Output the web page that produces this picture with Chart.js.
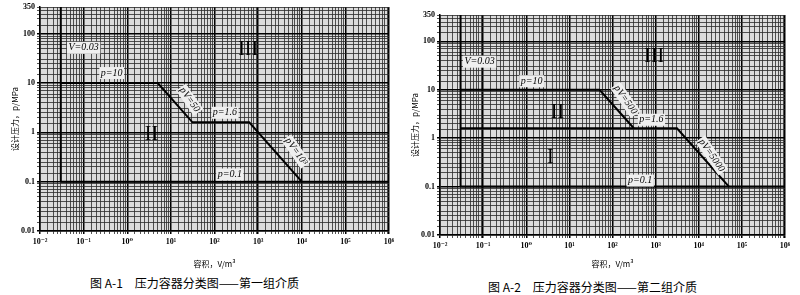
<!DOCTYPE html>
<html>
<head>
<meta charset="utf-8">
<script src="https://cdn.jsdelivr.net/npm/chart.js@4.4.1/dist/chart.umd.min.js"></script>
<style>
  body { margin: 0; width: 800px; height: 295px; background: #fff; position: relative; overflow: hidden; }
  .box { position: absolute; top: 0; width: 400px; height: 272px; }
  .caption { position: absolute; font-family: "Noto Sans CJK SC", sans-serif; font-size: 12px; color: #000; white-space: nowrap; }
</style>
</head>
<body>
<div class="box" style="left:0"><canvas id="chartA1"></canvas></div>
<div class="box" style="left:400px"><canvas id="chartA2"></canvas></div>
<div class="caption" style="left:90px; top:274px">图 A-1　压力容器分类图——第一组介质</div>
<div class="caption" style="left:488px; top:278px">图 A-2　压力容器分类图——第二组介质</div>

<script>
// axis ticks (log-log paper)
const volumeTicks = [0.01, 0.1, 1, 10, 100, 1000, 10000, 100000, 1000000];
const volumeLabels = ['10⁻²', '10⁻¹', '10⁰', '10¹', '10²', '10³', '10⁴', '10⁵', '10⁶'];
const pressureTicks = [0.01, 0.1, 1, 10, 100, 350];
const pressureLabels = ['0.01', '0.1', '1', '10', '100', '350'];
const paperSteps = [1, 1.5, 2, 2.5, 3, 4, 5, 6, 7, 8, 9];

// figure A-1, first group media  (V in m3, p in MPa)
const a1LineV003 = [{x: 0.03, y: 0.1}, {x: 0.03, y: 350}];
const a1LineP01 = [{x: 0.03, y: 0.1}, {x: 1000000, y: 0.1}];
const a1Steps = [{x: 0.03, y: 10}, {x: 5, y: 10}, {x: 31.25, y: 1.6}, {x: 625, y: 1.6}, {x: 10000, y: 0.1}];
const a1Texts = [
  {t: 'V=0.03', x: 0.1, y: 52, size: 10, italic: true, box: true},
  {t: 'p=10', x: 0.44, y: 16, size: 10, italic: true, box: true},
  {t: 'pV=50', x: 27, y: 4.6, size: 10, italic: true, box: true, rot: 55},
  {t: 'p=1.6', x: 174, y: 2.5, size: 10, italic: true, box: true},
  {t: 'pV=10³', x: 7400, y: 0.41, size: 10, italic: true, box: true, rot: 55},
  {t: 'p=0.1', x: 224, y: 0.14, size: 10, italic: true, box: true},
  {t: 'III', x: 590, y: 48, size: 20},
  {t: 'II', x: 3.6, y: 0.9, size: 20}
];

// figure A-2, second group media
const a2LineV003 = [{x: 0.03, y: 0.1}, {x: 0.03, y: 350}];
const a2LineP01 = [{x: 0.03, y: 0.1}, {x: 1000000, y: 0.1}];
const a2StepsHigh = [{x: 0.03, y: 10}, {x: 50, y: 10}, {x: 312.5, y: 1.6}];
const a2StepsLow = [{x: 0.03, y: 1.6}, {x: 3125, y: 1.6}, {x: 50000, y: 0.1}];
const a2Texts = [
  {t: 'V=0.03', x: 0.083, y: 38, size: 10, italic: true, box: true},
  {t: 'p=10', x: 1.33, y: 15, size: 10, italic: true, box: true},
  {t: 'pV=500', x: 200, y: 6.2, size: 10, italic: true, box: true, rot: 55},
  {t: 'p=1.6', x: 800, y: 2.4, size: 10, italic: true, box: true},
  {t: 'pV=5000', x: 20000, y: 0.44, size: 10, italic: true, box: true, rot: 55},
  {t: 'p=0.1', x: 440, y: 0.133, size: 10, italic: true, box: true},
  {t: 'III', x: 930, y: 49, size: 20},
  {t: 'II', x: 5.3, y: 3.3, size: 20},
  {t: 'I', x: 3.6, y: 0.4, size: 20}
];

function paperValues(min, max) {
  let vals = [];
  for (let e = Math.floor(Math.log10(min)); e <= Math.ceil(Math.log10(max)); e++) {
    paperSteps.forEach(s => {
      let v = s * Math.pow(10, e);
      if (v >= min * 0.999 && v <= max * 1.001) vals.push(v);
    });
  }
  if (vals[vals.length - 1] < max) vals.push(max);
  return vals;
}

function isDecade(v) {
  let l = Math.log10(v);
  return Math.abs(l - Math.round(l)) < 1e-6;
}

function lineSet(points) {
  return {data: points, showLine: true, borderColor: '#000', borderWidth: 2, pointRadius: 0, tension: 0};
}

const paperPlugin = {
  id: 'paper',
  beforeDraw(chart) {
    const a = chart.chartArea, c = chart.ctx;
    c.save();
    c.fillStyle = '#dcdcdc';
    c.fillRect(a.left, a.top, a.right - a.left, a.bottom - a.top);
    c.restore();
  },
  afterDatasetsDraw(chart, args, opts) {
    const c = chart.ctx, sx = chart.scales.x, sy = chart.scales.y;
    opts.texts.forEach(item => {
      const px = sx.getPixelForValue(item.x), py = sy.getPixelForValue(item.y);
      c.save();
      c.translate(px, py);
      if (item.rot) c.rotate(item.rot * Math.PI / 180);
      c.font = (item.italic ? 'italic ' : '') + item.size + 'px "Liberation Serif", "DejaVu Serif", serif';
      c.textAlign = 'center';
      c.textBaseline = 'middle';
      if (item.box) {
        const w = c.measureText(item.t).width + 3;
        c.fillStyle = '#efefef';
        c.fillRect(-w / 2, -item.size / 2 - 1, w, item.size + 2);
      }
      c.fillStyle = '#000';
      c.fillText(item.t, 0, 0);
      c.restore();
    });
  }
};

function makeChart(id, datasets, texts, pad, axisHeight) {
  const xVals = paperValues(0.01, 1000000);
  const yVals = paperValues(0.01, 350);
  const serif = '"Liberation Serif", "DejaVu Serif", serif';
  return new Chart(document.getElementById(id), {
    type: 'scatter',
    data: {datasets: datasets},
    plugins: [paperPlugin],
    options: {
      responsive: true,
      maintainAspectRatio: false,
      animation: false,
      layout: {padding: pad},
      plugins: {legend: {display: false}, tooltip: {enabled: false}, paper: {texts: texts}},
      scales: {
        x: {
          type: 'logarithmic', min: 0.01, max: 1000000,
          afterBuildTicks: s => { s.ticks = xVals.map(v => ({value: v})); },
          afterFit: s => { s.height = axisHeight; },
          border: {color: '#000', width: 1.5},
          grid: {
            color: ctx => isDecade(ctx.tick.value) ? '#000' : '#2a2a2a',
            lineWidth: ctx => isDecade(ctx.tick.value) ? 1.5 : 0.8,
            tickLength: 3
          },
          ticks: {
            autoSkip: false, maxRotation: 0, padding: 3, color: '#000',
            font: {family: serif, size: 8, weight: 'bold'},
            callback: v => { let i = volumeTicks.findIndex(t => Math.abs(t - v) / t < 1e-6); return i >= 0 ? volumeLabels[i] : ''; }
          },
          title: {display: true, text: '容积，V/m³', color: '#000', font: {family: '"Noto Sans CJK SC", sans-serif', size: 8}, padding: {top: 0, bottom: 3}}
        },
        y: {
          type: 'logarithmic', min: 0.01, max: 350,
          afterBuildTicks: s => { s.ticks = yVals.map(v => ({value: v})); },
          afterFit: s => { s.width = 40; },
          border: {color: '#000', width: 1.5},
          grid: {
            color: ctx => isDecade(ctx.tick.value) ? '#000' : '#2a2a2a',
            lineWidth: ctx => isDecade(ctx.tick.value) ? 1.5 : 0.8,
            tickLength: 3
          },
          ticks: {
            autoSkip: false, padding: 2, color: '#000',
            font: {family: serif, size: 8, weight: 'bold'},
            callback: v => { let i = pressureTicks.findIndex(t => Math.abs(t - v) / t < 1e-6); return i >= 0 ? pressureLabels[i] : ''; }
          },
          title: {display: true, text: '设计压力，p/MPa', color: '#000', font: {family: '"Noto Sans CJK SC", sans-serif', size: 8}, padding: {top: 10, bottom: 0}}
        }
      }
    }
  });
}

makeChart('chartA1',
  [lineSet(a1LineV003), lineSet(a1LineP01), lineSet(a1Steps)],
  a1Texts, {top: 7, right: 11, left: 0, bottom: 0}, 41);

makeChart('chartA2',
  [lineSet(a2LineV003), lineSet(a2LineP01), lineSet(a2StepsHigh), lineSet(a2StepsLow)],
  a2Texts, {top: 15, right: 15, left: 0, bottom: 0}, 37);
</script>
</body>
</html>
